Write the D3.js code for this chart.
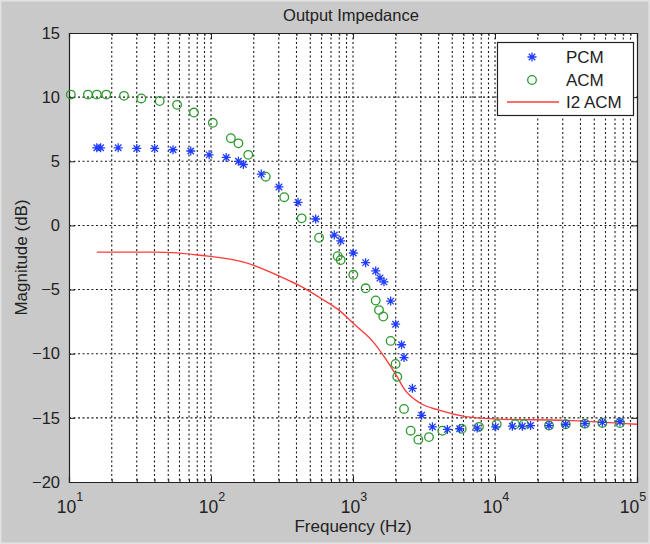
<!DOCTYPE html>
<html>
<head>
<meta charset="utf-8">
<title>Output Impedance</title>
<script src="https://d3js.org/d3.v7.min.js"></script>
<style>
    body { margin: 0; background: #c9c9c9; }
    svg { display: block; font-family: "Liberation Sans", Arial, sans-serif; }
    .grid line { stroke: #1a1a1a; stroke-dasharray: 2,2.5; stroke-width: 1.1; }
</style>
</head>
<body>
<div id="holder"></div>
<script>
// PCM measured points (Hz, dB)
const pcmFreq = [15.7, 16.7, 22.2, 30, 40.1, 54, 72, 97, 128, 156, 169, 226, 301, 410, 546, 738, 819, 1005,
    1227, 1445, 1549, 1652, 1841, 1996, 2198, 2287, 2620, 3042, 3625, 4620, 5640, 7500, 10100, 13250, 15560,
    17800, 24000, 31460, 43000, 57000, 75900];
const pcmMag = [6.05, 6.05, 6.05, 6.0, 6.0, 5.9, 5.8, 5.5, 5.3, 5.0, 4.75, 4.0, 3.0, 1.8, 0.5, -0.75, -1.2, -2.15,
    -2.9, -3.55, -4.1, -4.4, -5.9, -7.7, -9.3, -10.3, -12.7, -14.8, -15.7, -15.9, -15.85, -15.8, -15.7, -15.65, -15.65,
    -15.6, -15.6, -15.5, -15.45, -15.35, -15.3];

// ACM measured points
const acmFreq = [10.3, 13.6, 15.7, 18.3, 24.4, 32.3, 43.5, 57.7, 75.9, 103, 138, 156, 183, 243, 328, 435, 577,
    780, 819, 1005, 1227, 1445, 1525, 1634, 1841, 1996, 2050, 2287, 2548, 2884, 3428, 4256, 5826, 7710, 10280,
    13840, 16000, 24000, 31460, 43000, 57000, 75900];
const acmMag = [10.2, 10.2, 10.2, 10.2, 10.1, 9.9, 9.7, 9.4, 8.8, 8.0, 6.8, 6.4, 5.5, 3.8, 2.2, 0.55, -0.96,
    -2.4, -2.7, -3.85, -4.9, -5.85, -6.6, -7.1, -9.0, -10.8, -11.8, -14.3, -16.0, -16.7, -16.5, -16.0, -15.85, -15.7, -15.5,
    -15.5, -15.5, -15.6, -15.5, -15.45, -15.4, -15.4];

// I2 ACM model curve
const i2Freq = [15.7, 40.6, 87, 175, 354, 417, 577, 796, 1045, 1368, 1698, 1996, 2349, 2917, 4036, 6220,
    10670, 31460, 100000];
const i2Mag = [-2.08, -2.08, -2.34, -2.9, -4.3, -4.68, -5.6, -6.6, -7.8, -9.0, -10.4, -11.6, -12.9, -13.8, -14.4, -14.9,
    -15.1, -15.2, -15.5];

const yTicks = [-20, -15, -10, -5, 0, 5, 10, 15];
const xDecades = [10, 100, 1000, 10000, 100000];
const legendNames = ["PCM", "ACM", "I2 ACM"];

const w = 650, h = 544;
const pLeft = 69, pRight = 637, pTop = 33, pBottom = 482;

const svg = d3.select("#holder").append("svg")
    .attr("width", w)
    .attr("height", h);

// figure background
svg.append("rect").attr("width", w).attr("height", h).attr("fill", "#c9c9c9");
svg.append("rect").attr("x", 0.5).attr("y", 0.5).attr("width", w - 1).attr("height", h - 1)
    .attr("fill", "none").attr("stroke", "#e2e2e2").attr("stroke-width", 2);

const x = d3.scaleLog().domain([10, 100000]).range([pLeft, pRight]);
const y = d3.scaleLinear().domain([-20, 15]).range([pBottom, pTop]);

svg.append("rect")
    .attr("x", pLeft).attr("y", pTop)
    .attr("width", pRight - pLeft).attr("height", pBottom - pTop)
    .attr("fill", "white");

// all minor+major frequency ticks
let xAll = [];
for (let d = 10; d < 100000; d *= 10) {
    for (let k = 1; k < 10; k++) xAll.push(d * k);
}
xAll.push(100000);

const grid = svg.append("g").attr("class", "grid");
grid.selectAll(".gx")
    .data(xAll.filter(v => v > 10 && v < 100000))
    .enter().append("line")
    .attr("x1", d => x(d)).attr("x2", d => x(d))
    .attr("y1", pTop).attr("y2", pBottom);
grid.selectAll(".gy")
    .data(yTicks.filter(v => v > -20 && v < 15))
    .enter().append("line")
    .attr("x1", pLeft).attr("x2", pRight)
    .attr("y1", d => y(d)).attr("y2", d => y(d));

// axes, ticks inside like matlab
const axisCol = "#222";
const xb = svg.append("g").attr("transform", "translate(0," + pBottom + ")")
    .call(d3.axisBottom(x).tickValues(xAll).tickSize(-5).tickFormat(""));
const xt = svg.append("g").attr("transform", "translate(0," + pTop + ")")
    .call(d3.axisTop(x).tickValues(xAll).tickSize(-5).tickFormat(""));
const yl = svg.append("g").attr("transform", "translate(" + pLeft + ",0)")
    .call(d3.axisLeft(y).tickValues(yTicks).tickSize(-6).tickPadding(9));
const yr = svg.append("g").attr("transform", "translate(" + pRight + ",0)")
    .call(d3.axisRight(y).tickValues(yTicks).tickSize(-6).tickFormat(""));

[xb, xt, yl, yr].forEach(g => {
    g.selectAll("path").attr("stroke", axisCol).attr("stroke-width", 1.2);
    g.selectAll("line").attr("stroke", axisCol);
});
// minor x ticks shorter
[xb, xt].forEach(g => {
    g.selectAll(".tick line").filter(d => !xDecades.includes(d)).attr("y2", g === xb ? -3 : 3);
    g.selectAll(".tick line").filter(d => xDecades.includes(d)).attr("y2", g === xb ? -6 : 6);
});
yl.selectAll("text").attr("font-size", 16.5).attr("fill", "#222")
    .attr("font-family", "Liberation Sans, Arial, sans-serif");

// decade labels 10^n
const xl = svg.append("g");
xDecades.forEach((v, i) => {
    const last = i === xDecades.length - 1;
    const t = xl.append("text")
        .attr("x", last ? x(v) - 4 : x(v) + 1).attr("y", pBottom + 31)
        .attr("text-anchor", "middle")
        .attr("font-size", 17.5).attr("fill", "#222");
    t.append("tspan").text("10");
    t.append("tspan").text(String(i + 1)).attr("font-size", 12.5).attr("dy", -12);
});

// title and labels
svg.append("text").attr("x", (pLeft + pRight) / 2 - 2).attr("y", 21)
    .attr("text-anchor", "middle").attr("font-size", 16.5).attr("fill", "#222")
    .text("Output Impedance");
svg.append("text").attr("x", (pLeft + pRight) / 2).attr("y", 532)
    .attr("text-anchor", "middle").attr("font-size", 17).attr("fill", "#222")
    .text("Frequency (Hz)");
svg.append("text")
    .attr("transform", "translate(27," + ((pTop + pBottom) / 2) + ") rotate(-90)")
    .attr("text-anchor", "middle").attr("font-size", 17).attr("fill", "#222")
    .text("Magnitude (dB)");

const plot = svg.append("g");

// I2 ACM line
const line = d3.line().x(d => x(d[0])).y(d => y(d[1])).curve(d3.curveMonotoneX);
plot.append("path")
    .datum(i2Freq.map((f, i) => [f, i2Mag[i]]))
    .attr("d", line)
    .attr("fill", "none").attr("stroke", "#ff3c3c").attr("stroke-width", 1.4);

// ACM circles
plot.selectAll(".acm")
    .data(acmFreq.map((f, i) => [f, acmMag[i]]))
    .enter().append("circle")
    .attr("cx", d => x(d[0])).attr("cy", d => y(d[1]))
    .attr("r", 4.3)
    .attr("fill", "none").attr("stroke", "#2c9a2c").attr("stroke-width", 1.3);

// PCM stars
function star(g, cx, cy, s) {
    const p = "M" + (cx - s) + "," + cy + "H" + (cx + s) +
        "M" + cx + "," + (cy - s) + "V" + (cy + s) +
        "M" + (cx - s * 0.72) + "," + (cy - s * 0.72) + "L" + (cx + s * 0.72) + "," + (cy + s * 0.72) +
        "M" + (cx - s * 0.72) + "," + (cy + s * 0.72) + "L" + (cx + s * 0.72) + "," + (cy - s * 0.72);
    g.append("path").attr("d", p).attr("stroke", "#1f3cff").attr("stroke-width", 1.3).attr("fill", "none");
}
pcmFreq.forEach((f, i) => star(plot, x(f), y(pcmMag[i]), 4.5));

// legend
const lg = svg.append("g");
lg.append("rect").attr("x", 497.5).attr("y", 42.5).attr("width", 136).attr("height", 73)
    .attr("fill", "white").attr("stroke", "#222").attr("stroke-width", 1.2);
const ly = [57, 80, 102];
star(lg, 532, ly[0], 4.5);
lg.append("circle").attr("cx", 532).attr("cy", ly[1]).attr("r", 4.3)
    .attr("fill", "none").attr("stroke", "#2c9a2c").attr("stroke-width", 1.3);
lg.append("line").attr("x1", 507).attr("x2", 559).attr("y1", ly[2]).attr("y2", ly[2])
    .attr("stroke", "#ff3c3c").attr("stroke-width", 1.4);
legendNames.forEach((n, i) => {
    lg.append("text").attr("x", 566).attr("y", ly[i] + 6)
        .attr("font-size", 17).attr("fill", "#222").text(n);
});
</script>
</body>
</html>
